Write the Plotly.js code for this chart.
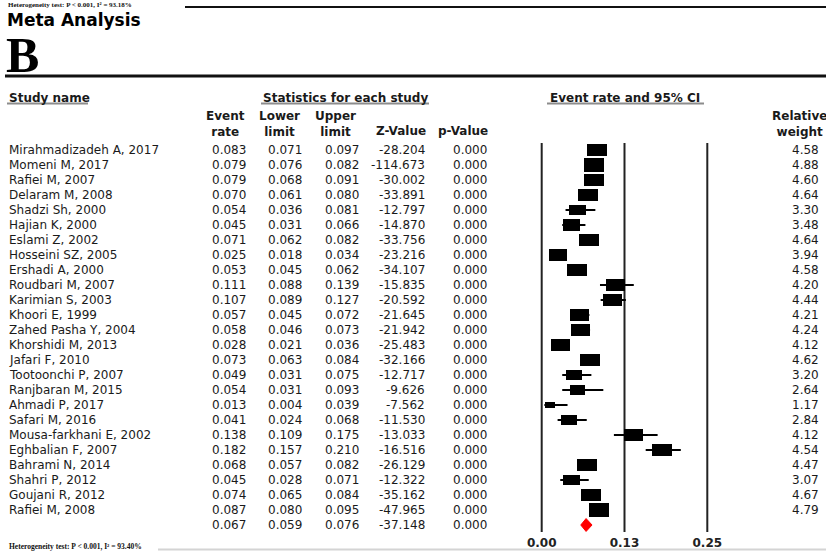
<!DOCTYPE html>
<html>
<head>
<meta charset="utf-8">
<script src="https://cdn.plot.ly/plotly-3.0.1.min.js"></script>
<style>html,body{margin:0;padding:0;background:#fff;}#chart{width:826px;height:551px;}</style>
</head>
<body>
<div id="chart"></div>
<script>
// ---------- data ----------
const studies = ["Mirahmadizadeh A, 2017","Momeni M, 2017","Rafiei M, 2007","Delaram M, 2008","Shadzi Sh, 2000","Hajian K, 2000","Eslami Z, 2002","Hosseini SZ, 2005","Ershadi A, 2000","Roudbari M, 2007","Karimian S, 2003","Khoori E, 1999","Zahed Pasha Y, 2004","Khorshidi M, 2013","Jafari F, 2010","Tootoonchi P, 2007","Ranjbaran M, 2015","Ahmadi P, 2017","Safari M, 2016","Mousa-farkhani E, 2002","Eghbalian F, 2007","Bahrami N, 2014","Shahri P, 2012","Goujani R, 2012","Rafiei M, 2008"];
const eventRate = [0.083,0.079,0.079,0.070,0.054,0.045,0.071,0.025,0.053,0.111,0.107,0.057,0.058,0.028,0.073,0.049,0.054,0.013,0.041,0.138,0.182,0.068,0.045,0.074,0.087];
const lowerLimit = [0.071,0.076,0.068,0.061,0.036,0.031,0.062,0.018,0.045,0.088,0.089,0.045,0.046,0.021,0.063,0.031,0.031,0.004,0.024,0.109,0.157,0.057,0.028,0.065,0.080];
const upperLimit = [0.097,0.082,0.091,0.080,0.081,0.066,0.082,0.034,0.062,0.139,0.127,0.072,0.073,0.036,0.084,0.075,0.093,0.039,0.068,0.175,0.210,0.082,0.071,0.084,0.095];
const zValue = [-28.204,-114.673,-30.002,-33.891,-12.797,-14.870,-33.756,-23.216,-34.107,-15.835,-20.592,-21.645,-21.942,-25.483,-32.166,-12.717,-9.626,-7.562,-11.530,-13.033,-16.516,-26.129,-12.322,-35.162,-47.965];
const pValue = [0,0,0,0,0,0,0,0,0,0,0,0,0,0,0,0,0,0,0,0,0,0,0,0,0];
const relWeight = [4.58,4.88,4.60,4.64,3.30,3.48,4.64,3.94,4.58,4.20,4.44,4.21,4.24,4.12,4.62,3.20,2.64,1.17,2.84,4.12,4.54,4.47,3.07,4.67,4.79];
const summaryRate = 0.067, summaryLower = 0.059, summaryUpper = 0.076, summaryZ = -37.148, summaryP = 0.000;
const axisTickVals = [0, 0.125, 0.25];
const axisTickText = ["0.00", "0.13", "0.25"];
const heteroTop = "Heterogeneity test: P < 0.001, I² = 93.18%";
const heteroBottom = "Heterogeneity test: P < 0.001, I² = 93.40%";

// ---------- layout helpers (pixel -> paper) ----------
const W = 826, H = 551, MT = 143, MB = 19;
const PH = H - MT - MB;
const PX = p => p / W;
const PY = p => (H - MB - p) / PH;

const rows = studies.map((s, i) => i);
const sumRow = studies.length;

const SANS = "DejaVu Sans, Liberation Sans, Arial, sans-serif";
const SERIF = "Liberation Serif, Times New Roman, serif";
const txtColor = "#1a1a1a";

const boxHalfW = w => 0.0070 * Math.sqrt(w);
const boxH = w => 0.40 * Math.sqrt(w);

const traces = [
  {
    type: "scatter", mode: "markers",
    x: eventRate, y: rows,
    marker: {size: 1, color: "#000"},
    error_x: {
      type: "data", symmetric: false,
      array: eventRate.map((r, i) => upperLimit[i] - r),
      arrayminus: eventRate.map((r, i) => r - lowerLimit[i]),
      thickness: 2, width: 0, color: "#000"
    },
    hoverinfo: "skip", showlegend: false
  },
  {
    type: "bar", orientation: "h",
    y: rows,
    x: relWeight.map(w => 2 * boxHalfW(w)),
    base: eventRate.map((r, i) => r - boxHalfW(relWeight[i])),
    width: relWeight.map(w => boxH(w)),
    marker: {color: "#000", line: {width: 0}},
    hoverinfo: "skip", showlegend: false
  },
  {
    type: "scatter", mode: "lines",
    x: [summaryLower, summaryRate, summaryUpper, summaryRate, summaryLower],
    y: [sumRow, sumRow - 0.43, sumRow, sumRow + 0.43, sumRow],
    fill: "toself", fillcolor: "#ff0000",
    line: {color: "#ff0000", width: 1},
    hoverinfo: "skip", showlegend: false
  }
];

const annotations = [];
function ann(text, xpx, y, opts) {
  annotations.push(Object.assign({
    text: text, x: PX(xpx), xref: "paper", y: y, yref: "y",
    showarrow: false, xanchor: "right", yanchor: "middle",
    font: {family: SANS, size: 12, color: txtColor}
  }, opts || {}));
}
function hdr(text, xpx, ypx, opts) {
  annotations.push(Object.assign({
    text: text, x: PX(xpx), xref: "paper", y: PY(ypx), yref: "paper",
    showarrow: false, xanchor: "center", yanchor: "middle",
    font: {family: SANS, size: 12, color: txtColor, weight: "bold"}
  }, opts || {}));
}

studies.forEach((s, i) => {
  ann(s, 7, i, {xanchor: "left"});
  ann(eventRate[i].toFixed(3), 248, i);
  ann(lowerLimit[i].toFixed(3), 304, i);
  ann(upperLimit[i].toFixed(3), 361, i);
  ann(zValue[i].toFixed(3), 427, i);
  ann(pValue[i].toFixed(3), 489, i);
  ann(relWeight[i].toFixed(2), 821, i);
});
ann(summaryRate.toFixed(3), 248, sumRow);
ann(summaryLower.toFixed(3), 304, sumRow);
ann(summaryUpper.toFixed(3), 361, sumRow);
ann(summaryZ.toFixed(3), 427, sumRow);
ann(summaryP.toFixed(3), 489, sumRow);

hdr(heteroTop, 7, 0, {xanchor: "left", yanchor: "top", borderpad: 0, font: {family: SERIF, size: 7, color: "#111", weight: "bold"}});
hdr("Meta Analysis", 6, 20, {xanchor: "left", borderpad: 0, font: {family: SANS, size: 17, color: "#000", weight: "bold"}});
hdr("B", 4, 55, {xanchor: "left", font: {family: SERIF, size: 50, color: "#000", weight: "bold"}});
hdr("Study name", 7, 98, {xanchor: "left"});
hdr("Statistics for each study", 345, 98);
hdr("Event rate and 95% CI", 625, 98);
hdr("Event<br>rate", 225, 124);
hdr("Lower<br>limit", 279, 124);
hdr("Upper<br>limit", 335, 124);
hdr("Z-Value", 428, 131, {xanchor: "right"});
hdr("p-Value", 490, 131, {xanchor: "right"});
hdr("Relative<br>weight", 799, 124);
hdr(heteroBottom, 7, 546, {xanchor: "left", font: {family: SERIF, size: 7.5, color: "#111", weight: "bold"}});

function hline(x0, x1, ypx, color, width) {
  return {type: "line", xref: "paper", yref: "paper", x0: PX(x0), x1: PX(x1), y0: PY(ypx), y1: PY(ypx),
          line: {color: color, width: width}};
}
const shapes = [
  hline(185, 826, 7, "#111", 2),
  hline(5, 826, 76, "#111", 3),
  hline(7, 88, 103.5, "#8c8c8c", 2),
  hline(261, 429, 103.5, "#8c8c8c", 2),
  hline(547, 704, 103.5, "#8c8c8c", 2),
  hline(158, 826, 549.5, "#d4d4d4", 2)
];
axisTickVals.forEach(v => {
  shapes.push({type: "line", xref: "x", yref: "paper", x0: v, x1: v, y0: 0, y1: 1,
               line: {color: "#222", width: 2}, layer: "below"});
});

// x axis: 0 at 541.7px, 0.25 at 707.3px
const pxPerUnit = (707.3 - 541.7) / 0.25;
const pad = 0.005;
const layout = {
  width: W, height: H,
  margin: {l: 0, r: 0, t: MT, b: MB, pad: 0},
  paper_bgcolor: "#fff", plot_bgcolor: "rgba(0,0,0,0)",
  showlegend: false,
  bargap: 0,
  xaxis: {
    domain: [PX(541.7 - pad * pxPerUnit), PX(707.3 + pad * pxPerUnit)],
    range: [-pad, 0.25 + pad],
    tickvals: axisTickVals, ticktext: axisTickText,
    ticks: "", showgrid: false, zeroline: false, showline: false,
    ticklabelstandoff: 2,
    tickfont: {family: SANS, size: 12, color: "#222", weight: "bold"},
    fixedrange: true
  },
  yaxis: {
    range: [sumRow + 0.4667, -0.4667],
    showticklabels: false, showgrid: false, zeroline: false, showline: false, ticks: "",
    fixedrange: true
  },
  annotations: annotations,
  shapes: shapes
};

Plotly.newPlot("chart", traces, layout, {displayModeBar: false, staticPlot: true});
</script>
</body>
</html>
